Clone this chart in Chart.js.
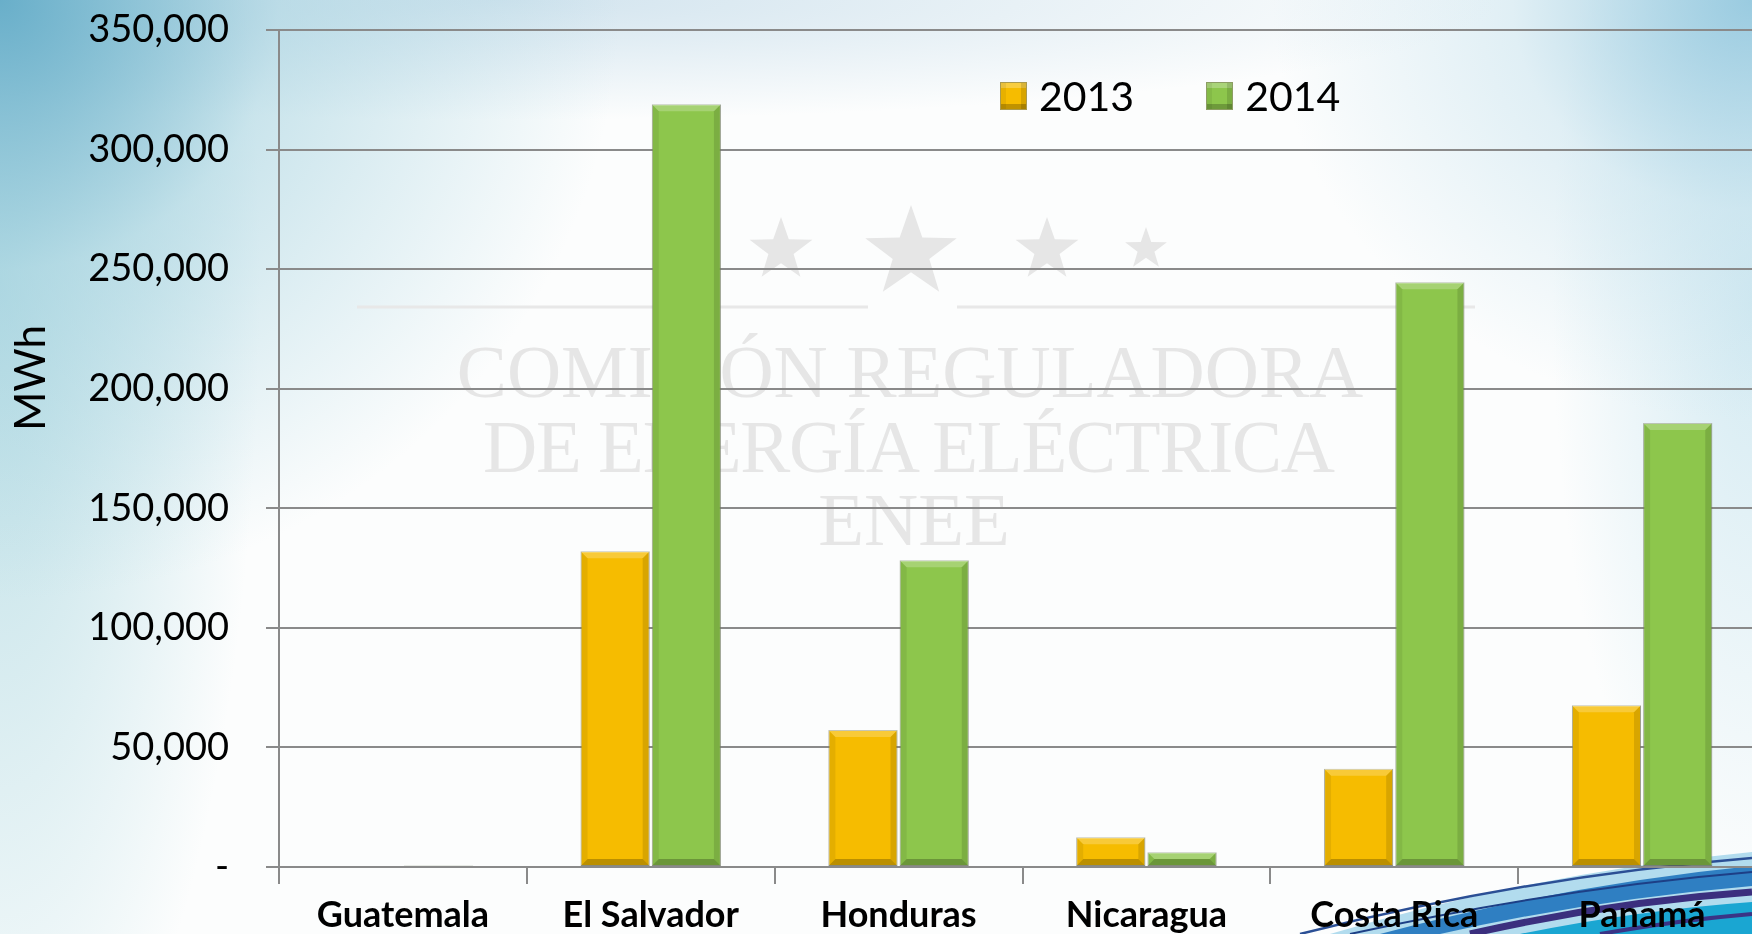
<!DOCTYPE html>
<html>
<head>
<meta charset="utf-8">
<script src="https://cdn.jsdelivr.net/npm/chart.js@4.4.1/dist/chart.umd.min.js"></script>
<style>
  html, body { margin: 0; padding: 0; }
  body {
    width: 1752px; height: 934px; overflow: hidden; position: relative;
    background:
      radial-gradient(ellipse 620px 600px at 0 0, rgba(100,172,200,0.95), rgba(160,208,222,0.55) 45%, rgba(255,255,255,0) 100%),
      radial-gradient(ellipse 260px 900px at 0 280px, rgba(160,210,220,0.7), rgba(255,255,255,0) 100%),
      radial-gradient(ellipse 1000px 120px at 500px 0, rgba(200,222,235,0.8), rgba(255,255,255,0) 100%),
      radial-gradient(ellipse 480px 420px at 100% 0, rgba(140,196,220,0.85), rgba(190,222,235,0.45) 50%, rgba(255,255,255,0) 100%),
      radial-gradient(ellipse 200px 600px at 100% 300px, rgba(185,222,235,0.6), rgba(255,255,255,0) 100%),
      #fcfdfd;
    font-family: Lato, sans-serif;
  }
  #deco { position: absolute; left: 0; top: 0; }
  #chartWrap { position: absolute; left: 0; top: 0; }
  #legend { position: absolute; left: 1000px; top: 75px; display: flex; align-items: center; }
  .item { display: flex; align-items: center; margin-right: 72px; }
  .box { width: 27px; height: 28px; box-sizing: border-box; margin-right: 12px;
         border: 1px solid rgba(140,140,110,0.7);
         box-shadow: inset 0 -5px 0 rgba(0,0,0,0.22), inset -5px 0 0 rgba(0,0,0,0.12), inset 5px 0 0 rgba(0,0,0,0.06), inset 0 5px 0 rgba(255,255,255,0.25); }
  .lbl { font-size: 41px; line-height: 41px; color: #000; }
</style>
</head>
<body>
<svg id="deco" width="1752" height="934" xmlns="http://www.w3.org/2000/svg">
  <!-- marca de agua -->
  <g fill="#e6e6e6" id="stars"></g>
  <line x1="357" y1="307" x2="868" y2="307" stroke="#e8e8e8" stroke-width="3"/>
  <line x1="957" y1="307" x2="1475" y2="307" stroke="#e8e8e8" stroke-width="3"/>
  <g font-family="'Liberation Serif', serif" font-size="75" fill="#e6e6e6" text-anchor="middle">
    <text x="910" y="397">COMISIÓN REGULADORA</text>
    <text x="909" y="472" textLength="852">DE ENERGÍA ELÉCTRICA</text>
    <text x="914" y="545">ENEE</text>
  </g>
  <!-- vague bleue en bas à droite -->
  <path d="M 1330 934 Q 1540 872 1752 852 L 1752 934 Z" fill="#b2dcee"/>
  <path d="M 1300 934 Q 1530 876 1752 858" fill="none" stroke="#2b4f95" stroke-width="2.5"/>
  <path d="M 1380 934 Q 1570 884 1752 866 L 1752 886 Q 1590 900 1440 934 Z" fill="#2f7fc2"/>
  <path d="M 1350 934 Q 1560 888 1752 872" fill="none" stroke="#1d3f86" stroke-width="2"/>
  <path d="M 1470 934 Q 1610 902 1752 892" fill="none" stroke="#3b2f7e" stroke-width="7"/>
  <path d="M 1520 934 Q 1640 910 1752 902 L 1752 934 Z" fill="#1aa6d2"/>
  <path d="M 1600 934 Q 1680 920 1752 914" fill="none" stroke="#3a3486" stroke-width="4"/>
</svg>
<div id="chartWrap"><canvas id="chart" width="1766" height="934"></canvas></div>
<div id="legend"></div>
<script>
// Données (MWh)
var categories = ['Guatemala', 'El Salvador', 'Honduras', 'Nicaragua', 'Costa Rica', 'Panamá'];
var seriesNames = ['2013', '2014'];
var values2013 = [0, 132000, 57300, 12400, 41100, 67600];
var values2014 = [600, 319000, 128300, 6200, 244500, 185700];
var yTicks = [0, 50000, 100000, 150000, 200000, 250000, 300000, 350000];
var barColors = ['#F6BC00', '#8DC64C'];

var gridColor = '#8a8a8a';

// étoiles du filigrane
function starPoints(cx, cy, R) {
    var pts = [];
    for (var i = 0; i < 10; i++) {
        var r = (i % 2 === 0) ? R : R * 0.4;
        var a = -Math.PI / 2 + i * Math.PI / 5;
        pts.push((cx + r * Math.cos(a)).toFixed(1) + ',' + (cy + r * Math.sin(a)).toFixed(1));
    }
    return pts.join(' ');
}
var starsG = document.getElementById('stars');
[[781, 250, 33], [911, 253, 48], [1047, 250, 33], [1146, 249, 22]].forEach(function (s) {
    var p = document.createElementNS('http://www.w3.org/2000/svg', 'polygon');
    p.setAttribute('points', starPoints(s[0], s[1], s[2]));
    starsG.appendChild(p);
});

// effet biseauté sur les barres
var bevelPlugin = {
    id: 'bevel',
    afterDatasetsDraw: function (chart) {
        var ctx = chart.ctx;
        chart.data.datasets.forEach(function (ds, i) {
            var meta = chart.getDatasetMeta(i);
            meta.data.forEach(function (bar) {
                var p = bar.getProps(['x', 'y', 'base', 'width'], true);
                var l = p.x - p.width / 2, r = p.x + p.width / 2, t = Math.min(p.y, p.base), b = Math.max(p.y, p.base);
                var h = b - t;
                if (h < 3) return;
                var d = Math.min(7, h / 2, p.width / 2);
                function quad(pts, col) {
                    ctx.beginPath();
                    ctx.moveTo(pts[0], pts[1]);
                    for (var k = 2; k < pts.length; k += 2) ctx.lineTo(pts[k], pts[k + 1]);
                    ctx.closePath();
                    ctx.fillStyle = col;
                    ctx.fill();
                }
                ctx.save();
                quad([l, t, r, t, r - d, t + d, l + d, t + d], 'rgba(255,255,255,0.22)');
                quad([l, t, l + d, t + d, l + d, b - d, l, b], 'rgba(0,0,0,0.07)');
                quad([r, t, r, b, r - d, b - d, r - d, t + d], 'rgba(0,0,0,0.12)');
                quad([l, b, l + d, b - d, r - d, b - d, r, b], 'rgba(0,0,0,0.24)');
                ctx.restore();
            });
        });
    }
};

// titre de l'axe vertical
var axisTitlePlugin = {
    id: 'axisTitle',
    afterDraw: function (chart) {
        var ctx = chart.ctx;
        ctx.save();
        ctx.translate(45, 378);
        ctx.rotate(-Math.PI / 2);
        ctx.font = '42px Lato';
        ctx.fillStyle = '#000';
        ctx.textAlign = 'center';
        ctx.textBaseline = 'alphabetic';
        ctx.fillText('MWh', 0, 0);
        ctx.restore();
    }
};

var ctx = document.getElementById('chart').getContext('2d');
var myChart = new Chart(ctx, {
    type: 'bar',
    data: {
        labels: categories,
        datasets: [{
            label: seriesNames[0],
            data: values2013,
            backgroundColor: barColors[0],
            borderColor: 'rgba(150,150,120,0.7)',
            borderWidth: 1,
            borderSkipped: false
        }, {
            label: seriesNames[1],
            data: values2014,
            backgroundColor: barColors[1],
            borderColor: 'rgba(140,150,120,0.7)',
            borderWidth: 1,
            borderSkipped: false
        }]
    },
    options: {
        responsive: false,
        animation: false,
        devicePixelRatio: 1,
        categoryPercentage: 0.575,
        barPercentage: 0.97,
        layout: { padding: { top: 30, left: 0, right: 0, bottom: 0 } },
        plugins: {
            legend: { display: false },
            tooltip: { enabled: false }
        },
        scales: {
            x: {
                afterFit: function (scale) { scale.height = 67; },
                grid: {
                    display: true,
                    drawOnChartArea: false,
                    drawTicks: true,
                    tickLength: 17,
                    color: gridColor,
                    lineWidth: 2
                },
                border: { display: true, color: gridColor, width: 2 },
                ticks: {
                    color: '#000',
                    padding: 10,
                    font: { family: 'Lato', size: 36, weight: 'bold' }
                }
            },
            y: {
                min: 0,
                max: 350000,
                afterFit: function (scale) {
                    scale.width = 279;
                    // le padding des étiquettes ne doit pas pousser la zone du graphique
                    scale.paddingTop = 20;
                    scale.paddingBottom = 20;
                },
                afterBuildTicks: function (scale) {
                    scale.ticks = yTicks.map(function (v) { return { value: v }; });
                },
                grid: {
                    color: gridColor,
                    lineWidth: 2,
                    drawTicks: true,
                    tickLength: 13
                },
                border: { display: true, color: gridColor, width: 2 },
                ticks: {
                    color: '#000',
                    padding: 37,
                    font: { family: 'Lato', size: 38 },
                    callback: function (value) {
                        return value === 0 ? '-' : value.toLocaleString('en-US');
                    }
                }
            }
        }
    },
    plugins: [bevelPlugin, axisTitlePlugin]
});

// légende HTML construite à partir des séries
var legendEl = document.getElementById('legend');
myChart.data.datasets.forEach(function (ds) {
    var item = document.createElement('div');
    item.className = 'item';
    var box = document.createElement('div');
    box.className = 'box';
    box.style.background = ds.backgroundColor;
    var lbl = document.createElement('span');
    lbl.className = 'lbl';
    lbl.textContent = ds.label;
    item.appendChild(box);
    item.appendChild(lbl);
    legendEl.appendChild(item);
});
</script>
</body>
</html>
